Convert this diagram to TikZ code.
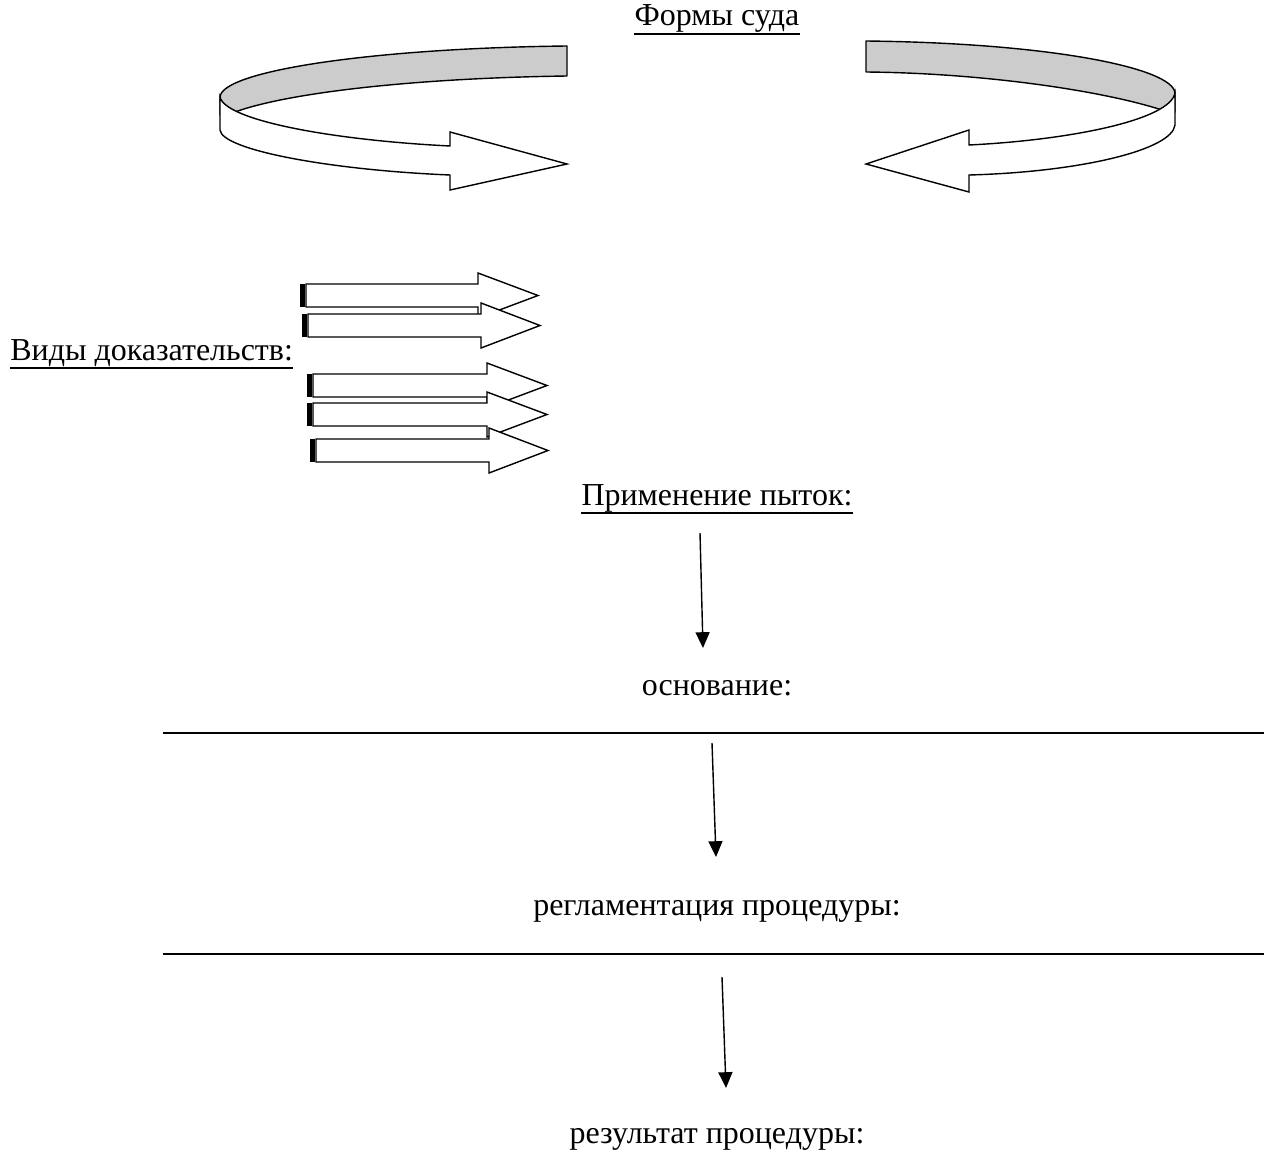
\documentclass[tikz,border=0pt]{standalone}
\usepackage{fontspec}
\setmainfont{Liberation Serif}
\usetikzlibrary{arrows.meta}
\tikzset{
    label-text/.style = {inner sep=0pt, anchor=base, font=\fontsize{18.2}{21}\selectfont},
    under-line/.style = {draw=black, line width=0.85pt},
    band-top/.style = {draw=black, fill=black!20, line width=0.8pt, line join=round},
    band-face/.style = {draw=black, fill=white, line width=0.8pt},
    block-arrow/.style = {draw=black, fill=white, line width=0.8pt},
    down-arrow/.style = {draw=black, line width=0.8pt, -{Triangle[length=9pt,width=8pt]}},
    blank-line/.style = {draw=black, line width=0.9pt},
}

\begin{document}
\begin{tikzpicture}[x=0.02cm, y=-0.02cm]
\useasboundingbox (0,0) rectangle (1264,1173);

% texts
\node[label-text] (forms) at (717,26) {Формы суда};
\node[label-text, anchor=base west] (kinds) at (10,360) {Виды доказательств:};
\node[label-text] (torture) at (717,505) {Применение пыток:};
\node[label-text] (basis) at (717,695) {основание:};
\node[label-text] (rules) at (717,915) {регламентация процедуры:};
\node[label-text] (result) at (717,1143) {результат процедуры:};
\foreach \n in {forms, kinds, torture}
    \draw[under-line] ([yshift=-0.16cm]\n.base west) -- ([yshift=-0.16cm]\n.base east);

% left circular arrow
\draw[band-top] (567,46) .. controls (380,48) and (222,70) .. (220,97) -- (220,115) -- (235,112)
    .. controls (290,92) and (420,78) .. (567,76) -- cycle;
\draw[band-face] (220,97) -- (220,130) .. controls (222,150) and (330,170) .. (450,175)
    -- (450,190) -- (567,164) -- (450,132) -- (450,146)
    .. controls (330,140) and (225,120) .. (220,97) -- cycle;

% right circular arrow
\draw[band-top] (866,41) .. controls (1050,43) and (1173,68) .. (1175,93) -- (1175,112) -- (1162,110)
    .. controls (1100,90) and (980,73) .. (866,72) -- cycle;
\draw[band-face] (1175,93) -- (1175,125) .. controls (1172,150) and (1080,172) .. (969,175)
    -- (969,192) -- (866,164) -- (969,130) -- (969,145)
    .. controls (1070,140) and (1170,120) .. (1175,93) -- cycle;

% block arrows
\foreach \t/\b/\h/\p in {300/284/478/538, 302/314/481/540, 307/374/487/547, 307/403/487/547, 310/439/489/548} {
    \fill[black] (\t,\b) rectangle (\t+4.5,\b+23);
    \draw[block-arrow] (\t+6,\b) -- (\h,\b) -- (\h,\b-11) -- (\p,\b+11.5) -- (\h,\b+34)
        -- (\h,\b+23) -- (\t+6,\b+23) -- cycle;
}

% blank lines
\coordinate (line1-a) at (163,733);
\coordinate (line1-b) at (1264,733);
\coordinate (line2-a) at (163,954);
\coordinate (line2-b) at (1264,954);
\draw[blank-line] (line1-a) -- (line1-b);
\draw[blank-line] (line2-a) -- (line2-b);

% down arrows
\coordinate (step1-a) at (700,533);
\coordinate (step1-b) at (703,648);
\coordinate (step2-a) at (712,743);
\coordinate (step2-b) at (716,857);
\coordinate (step3-a) at (722,977);
\coordinate (step3-b) at (726,1088);
\draw[down-arrow] (step1-a) -- (step1-b);
\draw[down-arrow] (step2-a) -- (step2-b);
\draw[down-arrow] (step3-a) -- (step3-b);
\end{tikzpicture}
\end{document}
